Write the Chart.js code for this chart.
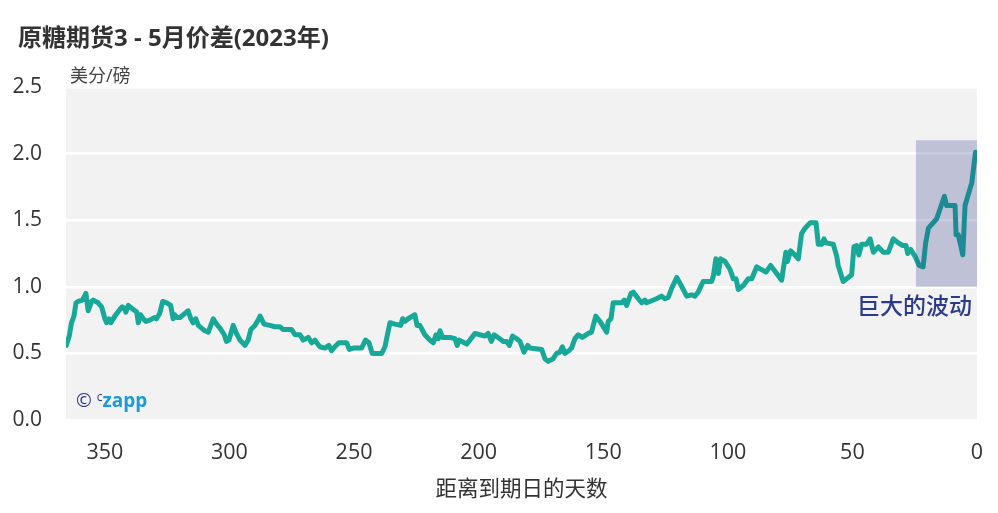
<!DOCTYPE html>
<html>
<head>
<meta charset="utf-8">
<script src="https://cdn.jsdelivr.net/npm/chart.js@4.4.1/dist/chart.umd.min.js"></script>
<style>
  body { margin: 0; background: #fff; font-family: "Open Sans", "Noto Sans CJK SC", sans-serif; }
  #wrap { position: relative; width: 998px; height: 513px; }
  #titre { position: absolute; left: 18px; top: 25px; font: bold 24px/24px "Open Sans", "Noto Sans CJK SC", sans-serif; color: #333; }
  #unite { position: absolute; left: 70px; top: 65px; font: 18px/20px "Open Sans", "Noto Sans CJK SC", sans-serif; color: #444; }
  #logo { position: absolute; left: 76px; top: 386px; font: 19px/22px "Open Sans", sans-serif; color: #2e3a87; }
  #logo sup { font-size: 12px; vertical-align: 6px; margin-left: 5px; }
  #logo b { color: #1d9bd7; }
</style>
</head>
<body>
<div id="wrap">
  <canvas id="spreadChart"></canvas>
  <div id="titre">原糖期货3 - 5月价差(2023年)</div>
  <div id="unite">美分/磅</div>
  <div id="logo">©<sup>c</sup><b>zapp</b></div>
</div>
<script>
// donnees
const days = [365.5, 364.3, 363.4, 362.4, 361.6, 360.7, 359, 357.6, 356.7, 355.3, 354.7, 352.7, 351.3, 350, 349.3, 348.3, 347.6, 346, 344, 343,
  342, 341.6, 340.6, 338.6, 337.2, 336.6, 335.7, 334.6, 333.5, 332, 330, 329.3, 328, 326.8, 325.2, 323.6, 322.6, 321.9, 321.2, 319.9,
  317.9, 316.6, 315.5, 314.6, 313.5, 312.5, 311.2, 309.9, 308.5, 306.5, 305.2, 303.8, 302.1, 301.2, 300.2, 298.5, 297.2, 295.8, 293.8, 292.5,
  291.4, 289.8, 288.5, 287.7, 286.1, 283.8, 281.8, 279.8, 278.4, 275.1, 273.7, 271.7, 270.4, 268.4, 267, 265.7, 265, 263.7, 261.7, 260.1,
  259, 257.7, 256.1, 253, 251.9, 250.3, 247, 245.4, 244, 242.7, 238.9, 237.6, 235.6, 233.6, 231.3, 230.5, 229.6, 228.3, 225.6, 224.7,
  223.6, 221.6, 219.6, 218.2, 217.1, 216.2, 215.5, 214.5, 211.5, 209.5, 208.6, 207.8, 204.8, 203.5, 201.5, 199.5, 197.5, 196.2, 194.9, 193.8,
  191.5, 190.1, 188.8, 187.7, 186.4, 184.7, 183.4, 181.8, 180.3, 179.4, 174.7, 173.4, 172.1, 170.1, 168.7, 167.4, 166.4, 165.4, 163.8, 162.7,
  161.4, 160, 158.4, 156, 154.7, 153, 151.3, 148.6, 148, 146.9, 146, 142.6, 141.6, 140.6, 138.9, 137.9, 135.9, 134.6, 133.3, 132.6,
  131.3, 128.6, 126.6, 125.2, 123.9, 122.5, 120.5, 119, 117.9, 116.5, 114.5, 113.2, 111.9, 109.9, 106.5, 105.8, 104.8, 103.8, 102.9, 101.1,
  99.1, 97.8, 96.7, 95.8, 93.8, 91.8, 90.4, 88.4, 84.7, 82.8, 80.4, 78.4, 76.7, 76.1, 74.8, 73.1, 71.7, 70.4, 69, 67,
  64.6, 63.7, 62.3, 61.4, 60.6, 57.7, 56.3, 55.7, 53.7, 50.3, 49.4, 48.3, 47.4, 46.3, 44.3, 42.9, 41.6, 39.6, 37.6, 35.6,
  33.6, 31.6, 29.8, 28.5, 27.8, 26.6, 24.9, 23.2, 21.6, 20.6, 19.5, 16.2, 14.9, 13.1, 12.2, 8.8, 8.4, 7.5, 5.7, 4.8,
  2.1, 0.6];
const spread = [0.56, 0.63, 0.73, 0.78, 0.88, 0.89, 0.90, 0.95, 0.82, 0.89, 0.90, 0.88, 0.85, 0.76, 0.73, 0.76, 0.73, 0.78, 0.83, 0.85,
  0.83, 0.81, 0.86, 0.83, 0.81, 0.73, 0.79, 0.76, 0.74, 0.75, 0.77, 0.76, 0.80, 0.89, 0.88, 0.86, 0.76, 0.79, 0.77, 0.77,
  0.80, 0.82, 0.76, 0.73, 0.76, 0.71, 0.69, 0.67, 0.66, 0.76, 0.72, 0.69, 0.64, 0.59, 0.60, 0.71, 0.65, 0.60, 0.56, 0.60,
  0.68, 0.71, 0.75, 0.78, 0.72, 0.71, 0.70, 0.70, 0.68, 0.68, 0.64, 0.64, 0.60, 0.62, 0.58, 0.60, 0.58, 0.55, 0.54, 0.56,
  0.52, 0.55, 0.58, 0.58, 0.53, 0.54, 0.54, 0.60, 0.58, 0.50, 0.50, 0.55, 0.73, 0.72, 0.71, 0.76, 0.74, 0.76, 0.79, 0.71,
  0.71, 0.64, 0.60, 0.58, 0.64, 0.61, 0.67, 0.62, 0.62, 0.61, 0.56, 0.60, 0.57, 0.60, 0.65, 0.64, 0.63, 0.65, 0.59, 0.64,
  0.61, 0.59, 0.59, 0.56, 0.63, 0.61, 0.59, 0.51, 0.56, 0.54, 0.53, 0.46, 0.44, 0.46, 0.50, 0.51, 0.55, 0.50, 0.52, 0.54,
  0.61, 0.64, 0.62, 0.65, 0.66, 0.78, 0.74, 0.66, 0.74, 0.76, 0.88, 0.88, 0.90, 0.86, 0.95, 0.96, 0.91, 0.88, 0.90, 0.88,
  0.89, 0.91, 0.93, 0.91, 0.92, 0.99, 1.07, 1.02, 0.98, 0.93, 0.94, 0.93, 0.96, 1.04, 1.04, 1.08, 1.21, 1.10, 1.21, 1.19,
  1.13, 1.06, 1.06, 0.98, 1.01, 1.06, 1.06, 1.15, 1.11, 1.16, 1.10, 1.05, 1.26, 1.19, 1.27, 1.24, 1.21, 1.40, 1.44, 1.48,
  1.48, 1.32, 1.32, 1.36, 1.33, 1.32, 1.23, 1.16, 1.04, 1.09, 1.30, 1.31, 1.24, 1.32, 1.32, 1.36, 1.26, 1.30, 1.26, 1.26,
  1.36, 1.33, 1.31, 1.31, 1.25, 1.28, 1.23, 1.16, 1.15, 1.33, 1.44, 1.51, 1.58, 1.68, 1.61, 1.61, 1.39, 1.39, 1.24, 1.61,
  1.78, 2.01];
const xTicks = [0, 50, 100, 150, 200, 250, 300, 350];
const yTicks = [0, 0.5, 1.0, 1.5, 2.0, 2.5];
// zone "巨大的波动"
const zoneDays = [24.5, 0];
const zoneSpread = [1.0, 2.1];
const zoneLabel = '巨大的波动';

const tealColor = '#17a898';

// fond gris de la zone de tracé
const plotBackground = {
  id: 'plotBackground',
  beforeDraw(chart) {
    const {ctx, chartArea} = chart;
    ctx.save();
    ctx.fillStyle = '#f2f2f2';
    ctx.fillRect(chartArea.left, chartArea.top, chartArea.right - chartArea.left, chartArea.bottom - chartArea.top);
    ctx.restore();
  }
};

// rectangle + texte de la zone
const zoneBox = {
  id: 'zoneBox',
  afterDatasetsDraw(chart) {
    const {ctx} = chart;
    const x = chart.scales.x;
    const y = chart.scales.y;
    const x1 = x.getPixelForValue(zoneDays[0]);
    const x2 = x.getPixelForValue(zoneDays[1]);
    const y1 = y.getPixelForValue(zoneSpread[1]);
    const y2 = y.getPixelForValue(zoneSpread[0]);
    ctx.save();
    ctx.fillStyle = 'rgba(46, 58, 140, 0.26)';
    ctx.fillRect(x1, y1, x2 - x1, y2 - y1);
    ctx.fillStyle = '#2b3a8a';
    ctx.font = '500 23px "Noto Sans CJK SC", sans-serif';
    ctx.textAlign = 'right';
    ctx.textBaseline = 'middle';
    ctx.fillText(zoneLabel, x2 - 5, y.getPixelForValue(0.86));
    ctx.restore();
  }
};

const ctx1 = document.getElementById('spreadChart').getContext('2d');
const spreadChart = new Chart(ctx1, {
  type: 'line',
  data: {
    datasets: [{
      data: days.map((d, i) => ({x: d, y: spread[i]})),
      borderColor: tealColor,
      borderWidth: 5,
      borderJoinStyle: 'round',
      borderCapStyle: 'round',
      pointRadius: 0,
      tension: 0,
      fill: false
    }]
  },
  options: {
    responsive: true,
    maintainAspectRatio: false,
    animation: false,
    layout: { padding: { top: 87, right: 21, bottom: 0, left: 0 } },
    plugins: {
      legend: { display: false },
      tooltip: { enabled: false }
    },
    scales: {
      x: {
        type: 'linear',
        reverse: true,
        min: 0,
        max: 365.6,
        afterBuildTicks: (scale) => { scale.ticks = xTicks.map(v => ({value: v})); },
        afterFit: (scale) => { scale.height = 93; },
        grid: { display: false, drawTicks: false },
        border: { display: false },
        ticks: { color: '#333', font: { family: '"Open Sans", sans-serif', size: 21.5 }, padding: 20, maxRotation: 0 },
        title: {
          display: true,
          text: '距离到期日的天数',
          color: '#333',
          font: { family: '"Noto Sans CJK SC", sans-serif', size: 21.5 },
          padding: { top: 0, bottom: 12 }
        }
      },
      y: {
        min: 0,
        max: 2.5,
        afterBuildTicks: (scale) => { scale.ticks = yTicks.map(v => ({value: v})); },
        afterFit: (scale) => { scale.width = 66; },
        grid: { color: '#ffffff', lineWidth: 2.5, drawTicks: false },
        border: { display: false },
        ticks: {
          color: '#333',
          font: { family: '"Open Sans", sans-serif', size: 21 },
          padding: 24,
          callback: (v) => v.toFixed(1)
        }
      }
    }
  },
  plugins: [plotBackground, zoneBox]
});
</script>
</body>
</html>
